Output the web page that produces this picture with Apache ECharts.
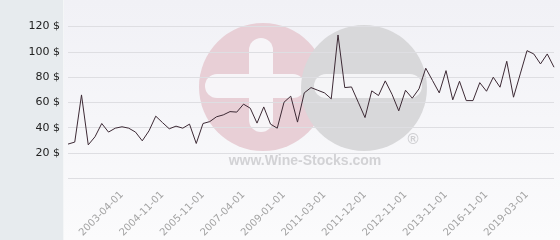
<!DOCTYPE html>
<html>
<head>
<meta charset="utf-8">
<script src="https://cdn.jsdelivr.net/npm/echarts@6/dist/echarts.min.js"></script>
<style>
html,body{margin:0;padding:0;}
#chart{width:560px;height:240px;}
</style>
</head>
<body>
<div id="chart"></div>
<script>
// Price series (USD), one value per sale
const prices = [
  27.0, 28.6, 65.9, 26.4, 32.8, 43.3, 36.5, 39.6, 40.7, 39.6,
  36.5, 29.6, 37.5, 49.1, 44.0, 39.1, 41.2, 39.6, 42.8, 27.5,
  43.3, 44.8, 48.6, 50.1, 52.7, 52.3, 58.6, 55.4, 43.6, 56.4,
  42.8, 39.6, 60.1, 64.9, 44.4, 67.5, 71.7, 69.6, 67.5, 62.8,
  113.3, 71.7, 72.2, 60.1, 48.0, 69.1, 65.4, 77.0, 66.4, 53.3,
  69.6, 63.3, 70.7, 87.0, 77.3, 67.5, 85.1, 62.0, 76.7, 61.4,
  61.4, 75.6, 68.8, 79.9, 72.0, 92.5, 64.1, 82.5, 100.9, 98.3,
  90.4, 98.3, 87.8
];
// Date labels shown on the x axis
const tickLabels = [
  "2003-04-01", "2004-11-01", "2005-11-01", "2007-04-01", "2009-01-01",
  "2011-03-01", "2011-12-01", "2012-11-01", "2013-11-01", "2016-11-01", "2019-03-01"
];
// index of the point each tick label belongs to
const tickIndices = [8, 14, 20, 26, 32, 38, 44, 50, 56, 62, 68];
const yTicks = [0, 20, 40, 60, 80, 100, 120];

const categories = prices.map((_, i) => {
  const k = tickIndices.indexOf(i);
  return k >= 0 ? tickLabels[k] : '';
});

const chart = echarts.init(document.getElementById('chart'), null, {renderer: 'canvas'});
chart.setOption({
  animation: false,
  backgroundColor: {
    type: 'linear', x: 0, y: 0, x2: 0, y2: 1,
    colorStops: [{offset: 0, color: '#f1f1f6'}, {offset: 1, color: '#fbfbfc'}]
  },
  graphic: [
    {type: 'rect', z: -20, silent: true, shape: {x: 0, y: 0, width: 63, height: 240}, style: {fill: '#e7ebee'}},
    {type: 'rect', z: -20, silent: true, shape: {x: 63, y: 0, width: 1, height: 240}, style: {fill: '#f4f6f7'}},
    {type: 'circle', z: -10, silent: true, shape: {cx: 263, cy: 87, r: 64}, style: {fill: '#e8cfd6'}},
    {type: 'rect', z: -9, silent: true, shape: {x: 205, y: 74, width: 100, height: 24, r: 12}, style: {fill: '#f7f5f8'}},
    {type: 'rect', z: -9, silent: true, shape: {x: 249, y: 38, width: 24, height: 94, r: 12}, style: {fill: '#f7f5f8'}},
    {type: 'circle', z: -8, silent: true, shape: {cx: 364, cy: 88, r: 63}, style: {fill: '#d8d8da'}},
    {type: 'rect', z: -7, silent: true, shape: {x: 314, y: 74, width: 108, height: 24, r: 12}, style: {fill: '#f5f5f7'}},
    {type: 'text', z: -7, silent: true, style: {x: 413, y: 140, text: '®', fill: '#cfcfd2', font: 'bold 15px "Liberation Sans"', align: 'center', verticalAlign: 'middle'}},
    {type: 'text', z: -7, silent: true, style: {x: 305, y: 161, text: 'www.Wine-Stocks.com', fill: '#d2d2d5', font: 'bold 14px "Liberation Sans"', align: 'center', verticalAlign: 'middle'}}
  ],
  grid: {left: 68, right: 6, top: 26.5, bottom: 61.5, containLabel: false},
  xAxis: {
    type: 'category',
    boundaryGap: false,
    data: categories,
    axisLine: {show: false},
    axisTick: {show: false},
    splitLine: {show: false},
    axisLabel: {
      interval: 0,
      rotate: 45,
      margin: 15,
      color: '#a3a3a3',
      fontFamily: 'DejaVu Sans',
      fontSize: 10
    }
  },
  yAxis: {
    type: 'value',
    min: yTicks[0],
    max: yTicks[yTicks.length - 1],
    interval: 20,
    axisLine: {show: false},
    axisTick: {show: false},
    splitLine: {show: true, lineStyle: {color: '#dedee2', width: 1}},
    axisLabel: {
      margin: 8,
      color: '#222',
      fontFamily: 'DejaVu Sans',
      fontSize: 11,
      formatter: v => v === 0 ? '' : v + ' $'
    }
  },
  series: [{
    type: 'line',
    data: prices,
    showSymbol: false,
    symbol: 'none',
    lineStyle: {color: '#3d2a35', width: 1},
    z: 5
  }]
});
</script>
</body>
</html>
